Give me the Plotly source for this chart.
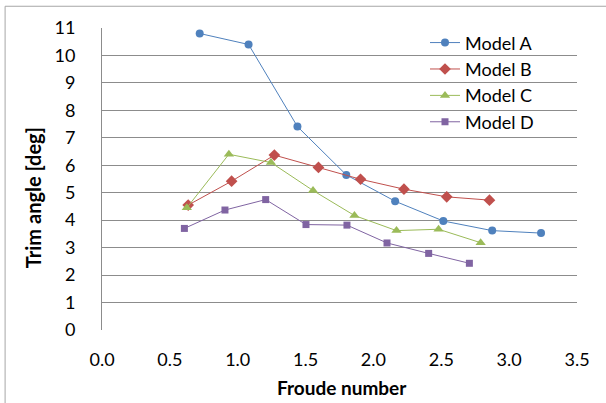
import plotly.graph_objects as go

names = ["Model A", "Model B", "Model C", "Model D"]
colors = ["#4F81BD", "#C0504D", "#9BBB59", "#8064A2"]
symbols = ["circle", "diamond", "triangle-up", "square"]
sizes = [8, 9, 9, 7]

xa = [0.72, 1.08, 1.44, 1.80, 2.16, 2.515, 2.875, 3.235]
ya = [10.8, 10.4, 7.41, 5.65, 4.69, 3.97, 3.62, 3.53]
xb = [0.635, 0.955, 1.27, 1.595, 1.905, 2.225, 2.54, 2.855]
yb = [4.55, 5.42, 6.37, 5.92, 5.49, 5.13, 4.85, 4.73]
xc = [0.625, 0.935, 1.245, 1.555, 1.86, 2.17, 2.48, 2.79]
yc = [4.45, 6.40, 6.10, 5.08, 4.17, 3.62, 3.67, 3.18]
xd = [0.607, 0.906, 1.206, 1.503, 1.805, 2.10, 2.407, 2.707]
yd = [3.70, 4.37, 4.75, 3.84, 3.82, 3.17, 2.79, 2.43]

xs = [xa, xb, xc, xd]
ys = [ya, yb, yc, yd]

x_ticks = [0.0, 0.5, 1.0, 1.5, 2.0, 2.5, 3.0, 3.5]
y_ticks = list(range(0, 12))

FONT = "Lato"

fig = go.Figure()
for i in range(4):
    fig.add_trace(go.Scatter(
        x=xs[i], y=ys[i], name=names[i], mode="lines+markers",
        legendgroup=names[i],
        line=dict(color=colors[i], width=1),
        marker=dict(symbol=symbols[i], size=sizes[i], color=colors[i]),
    ))

fig.update_layout(
    width=606, height=403,
    margin=dict(l=102, r=29, t=28, b=73),
    paper_bgcolor="white", plot_bgcolor="white",
    font=dict(family=FONT, size=18, color="black"),
    showlegend=True,
    legend=dict(x=0.68, y=1.012, xanchor="left", yanchor="top",
                bgcolor="rgba(0,0,0,0)", font=dict(size=18),
                tracegroupgap=0),
    xaxis=dict(range=[0, 3.5], tickvals=x_ticks,
               ticktext=[f"{v:.1f}" for v in x_ticks],
               showgrid=False, zeroline=False, showline=False,
               ticks="outside", ticklen=13, tickcolor="rgba(0,0,0,0)",
               tickfont=dict(size=18)),
    yaxis=dict(range=[0, 11], tickvals=y_ticks,
               showgrid=True, gridcolor="#8C8C8C", gridwidth=1,
               zeroline=False, showline=True, linecolor="#8C8C8C", linewidth=1,
               ticks="outside", ticklen=22, tickcolor="rgba(0,0,0,0)",
               tickfont=dict(size=18)),
    annotations=[
        dict(text="<b>Froude number</b>", xref="paper", yref="paper",
             x=0.506, y=-0.192, xanchor="center", yanchor="middle",
             showarrow=False, font=dict(size=19)),
        dict(text="<b>Trim angle [deg]</b>", xref="paper", yref="paper",
             x=-0.145, y=0.437, xanchor="center", yanchor="middle",
             textangle=-90, showarrow=False, font=dict(size=20)),
    ],
    shapes=[
        dict(type="rect", xref="paper", yref="paper",
             x0=-0.204, y0=-0.5, x1=2.0, y1=1.072,
             line=dict(color="#A6A6A6", width=1), layer="below"),
    ],
)

fig.write_html("out.html")
